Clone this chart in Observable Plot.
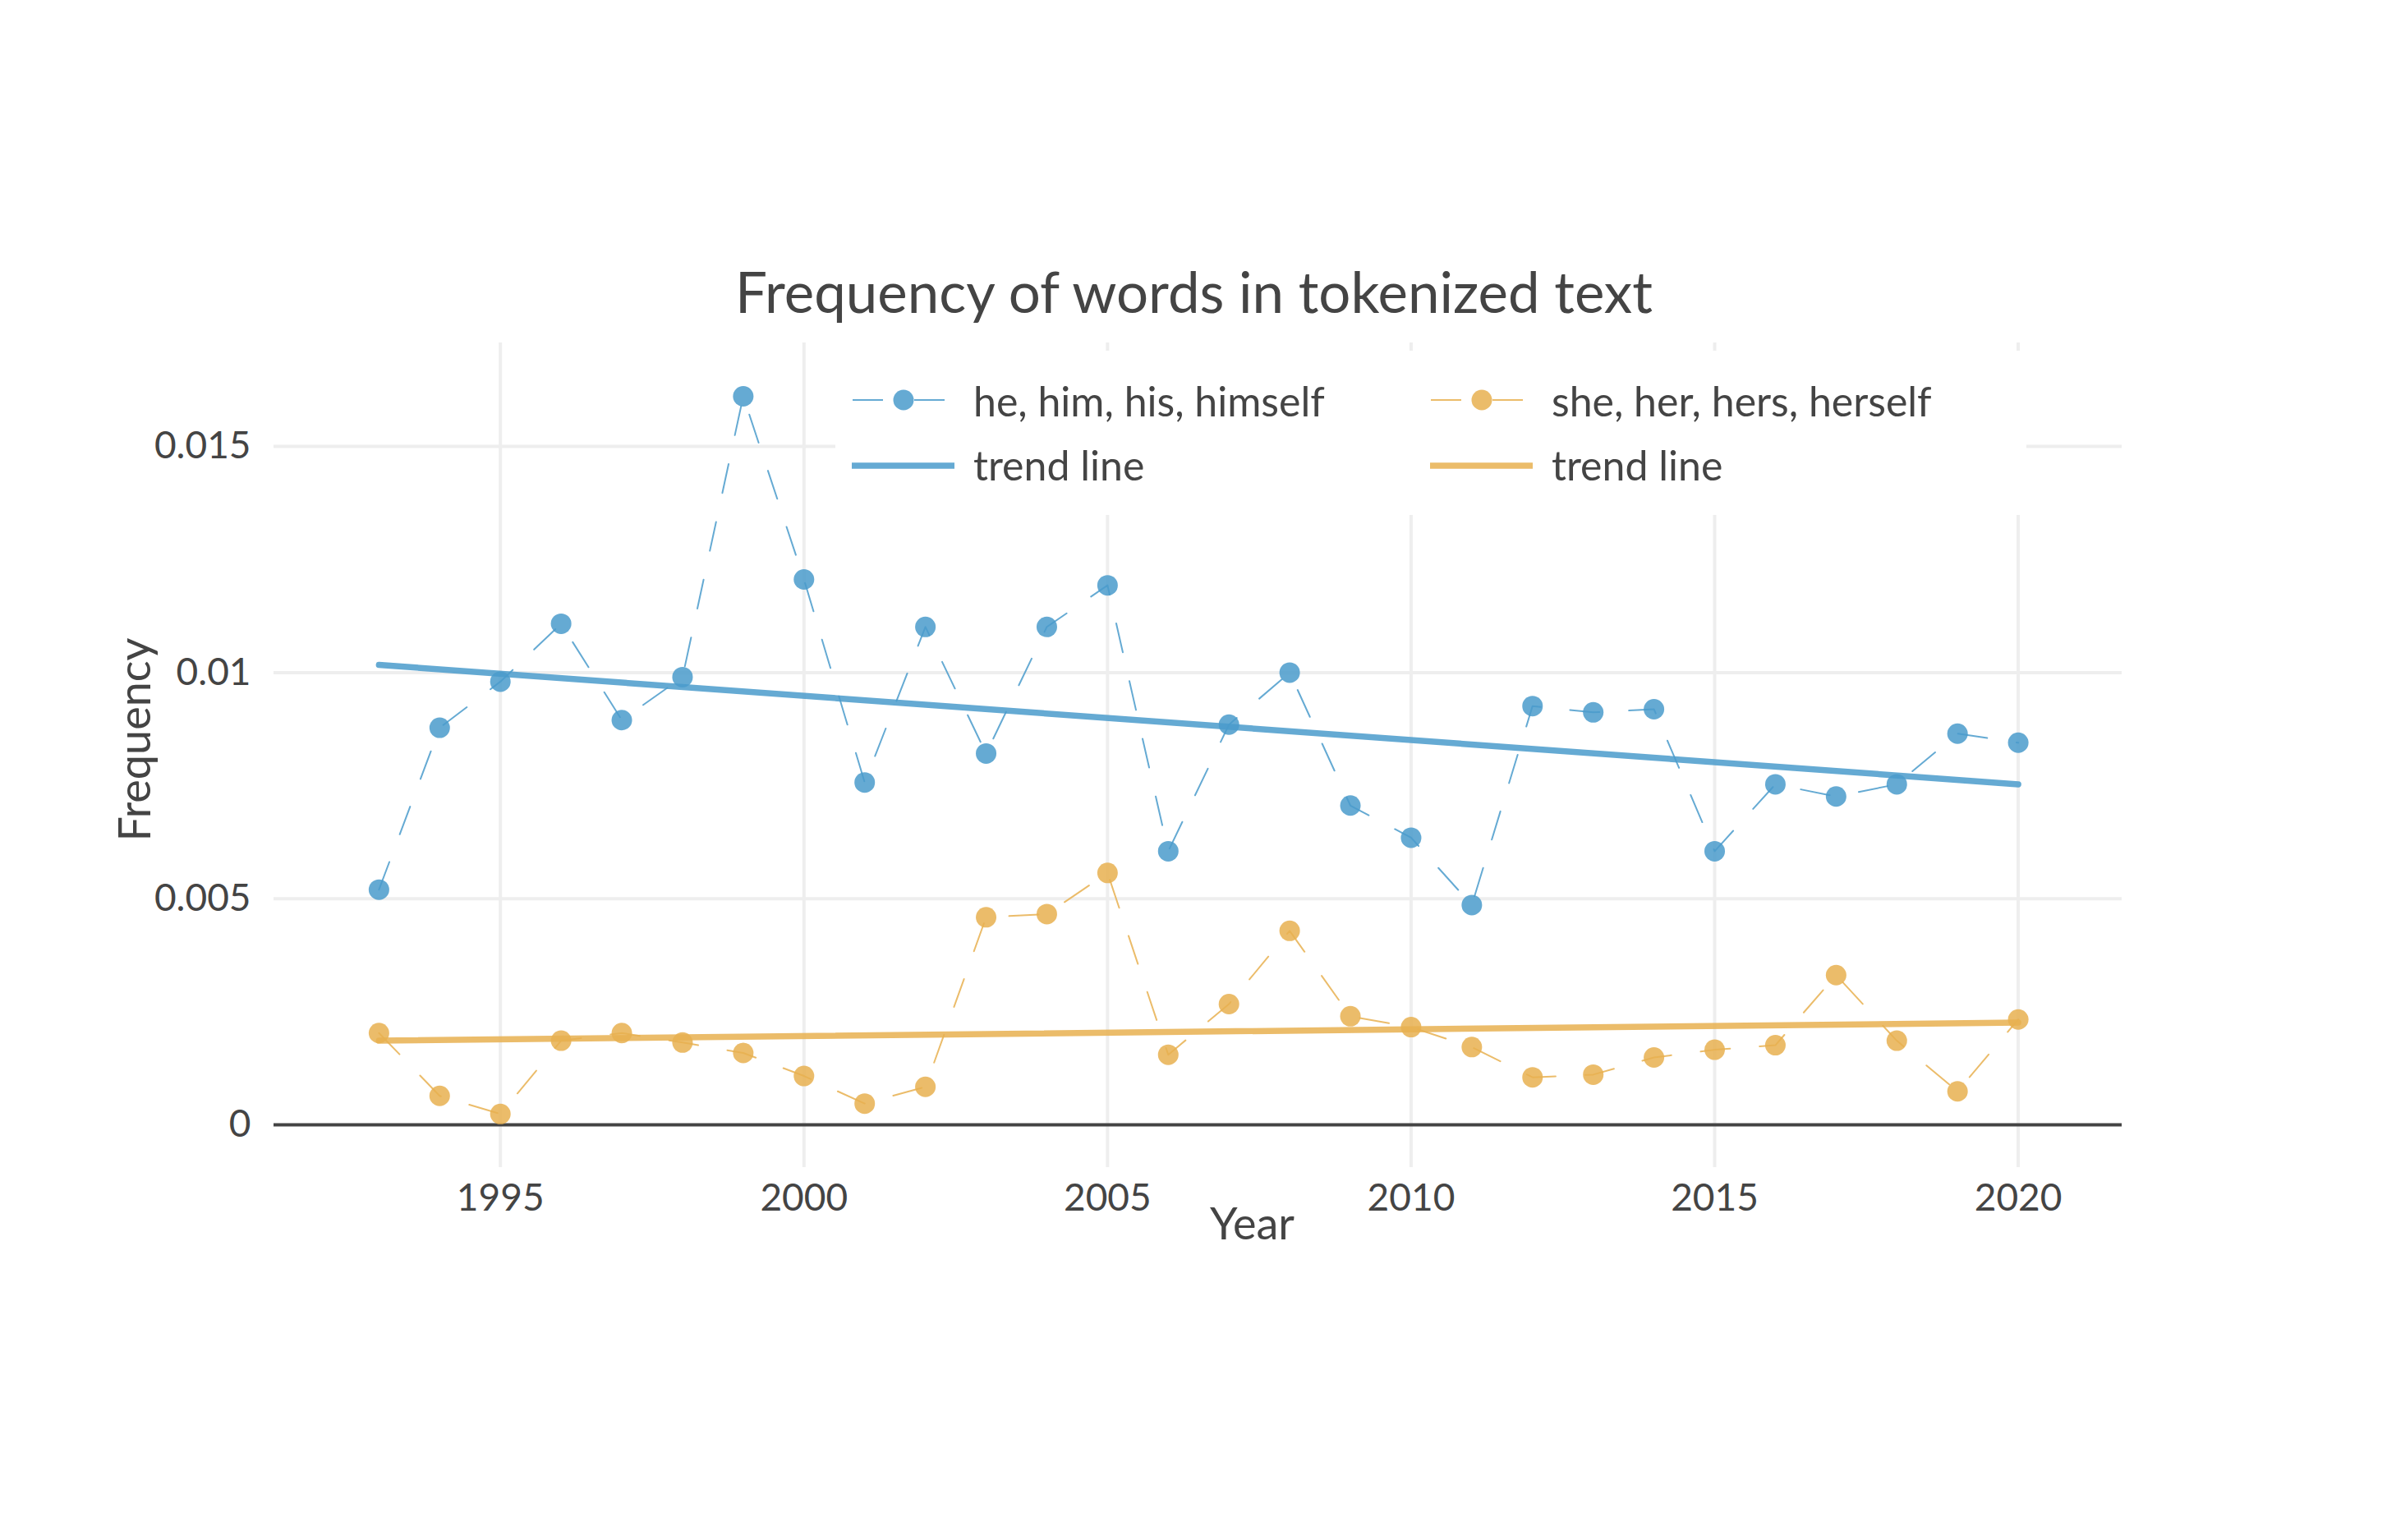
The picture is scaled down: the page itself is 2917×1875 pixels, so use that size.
<!DOCTYPE html>
<html>
<head>
<meta charset="utf-8">
<script src="https://cdn.jsdelivr.net/npm/d3@7"></script>
<script src="https://cdn.jsdelivr.net/npm/@observablehq/plot@0.6"></script>
<style>
  html, body { margin: 0; padding: 0; background: #fff; }
  #wrap { position: relative; width: 2917px; height: 1875px; font-family: Lato, "Noto Sans", sans-serif; color: #444; }
  #legend { position: absolute; left: 1017px; top: 427px; }
</style>
</head>
<body>
<div id="wrap"><div id="chart"></div><div id="legend"></div></div>
<script>
// ---- data ----
const years = [1993, 1994, 1995, 1996, 1997, 1998, 1999, 2000, 2001, 2002, 2003, 2004, 2005, 2006,
               2007, 2008, 2009, 2010, 2011, 2012, 2013, 2014, 2015, 2016, 2017, 2018, 2019, 2020];
const heFreq = [0.0052, 0.00878, 0.0098, 0.01108, 0.00895, 0.0099, 0.01611, 0.01206, 0.00757, 0.01101,
                0.00821, 0.01101, 0.01193, 0.00605, 0.00885, 0.01, 0.00706, 0.00635, 0.00486, 0.00926,
                0.00912, 0.00919, 0.00605, 0.00753, 0.00726, 0.00753, 0.00865, 0.00845];
const sheFreq = [0.00203, 0.00064, 0.00024, 0.00186, 0.00203, 0.00182, 0.00159, 0.00108, 0.00047, 0.00084,
                 0.00459, 0.00466, 0.00557, 0.00155, 0.00267, 0.00429, 0.0024, 0.00216, 0.00172, 0.00105,
                 0.00111, 0.00149, 0.00166, 0.00176, 0.00331, 0.00186, 0.00074, 0.00233];
const trendYears = [1993, 2020];
const heTrend = [0.01017, 0.00753];
const sheTrend = [0.00186, 0.00226];
const xTicks = [1995, 2000, 2005, 2010, 2015, 2020];
const yTicks = [0, 0.005, 0.01, 0.015];
const yTickLabels = ["0", "0.005", "0.01", "0.015"];
const seriesNames = ["he, him, his, himself", "she, her, hers, herself"];
const trendName = "trend line";
const titleText = "Frequency of words in tokenized text";
const xLabel = "Year";
const yLabel = "Frequency";

// ---- styles ----
const BLUE = "#4a9bcb";
const ORANGE = "#e8b050";
const OP = 0.85;
const TEXT = "#444444";

const heRows = years.map((y, i) => ({year: y, value: heFreq[i]}));
const sheRows = years.map((y, i) => ({year: y, value: sheFreq[i]}));
const heTrendRows = trendYears.map((y, i) => ({year: y, value: heTrend[i]}));
const sheTrendRows = trendYears.map((y, i) => ({year: y, value: sheTrend[i]}));

const chart = Plot.plot({
  width: 2917,
  height: 1875,
  marginLeft: 333,
  marginRight: 334,
  marginTop: 417,
  marginBottom: 454,
  style: {fontFamily: "Lato, 'Noto Sans', sans-serif", fontSize: "46px", color: TEXT, background: "#fff"},
  x: {domain: [1991.27, 2021.71]},
  y: {domain: [-0.000944, 0.01729]},
  marks: [
    Plot.gridX(xTicks, {stroke: "#eeeeee", strokeOpacity: 1, strokeWidth: 4}),
    Plot.gridY(yTicks.filter(d => d !== 0), {stroke: "#eeeeee", strokeOpacity: 1, strokeWidth: 4}),
    Plot.ruleY([0], {stroke: "#444444", strokeWidth: 4}),
    Plot.axisX({ticks: xTicks, tickFormat: d => String(d), tickSize: 0, tickPadding: 20, label: null, fontSize: 46, fill: TEXT}),
    Plot.axisY({ticks: yTicks, tickFormat: (d, i) => yTickLabels[yTicks.indexOf(d)], tickSize: 0, tickPadding: 28, label: null, fontSize: 46, fill: TEXT}),
    Plot.line(heRows, {x: "year", y: "value", stroke: BLUE, strokeOpacity: OP, strokeWidth: 2, strokeDasharray: "36,36"}),
    Plot.dot(heRows, {x: "year", y: "value", r: 12.5, fill: BLUE, fillOpacity: OP, stroke: null}),
    Plot.line(heTrendRows, {x: "year", y: "value", stroke: BLUE, strokeOpacity: OP, strokeWidth: 7.5}),
    Plot.line(sheRows, {x: "year", y: "value", stroke: ORANGE, strokeOpacity: OP, strokeWidth: 2, strokeDasharray: "36,36"}),
    Plot.dot(sheRows, {x: "year", y: "value", r: 12.5, fill: ORANGE, fillOpacity: OP, stroke: null}),
    Plot.line(sheTrendRows, {x: "year", y: "value", stroke: ORANGE, strokeOpacity: OP, strokeWidth: 7.5}),
    Plot.text([titleText], {frameAnchor: "top", dx: -5, dy: -59, fontSize: 69, fill: TEXT, lineAnchor: "middle", textAnchor: "middle"}),
    Plot.text([xLabel], {frameAnchor: "bottom", dx: 66, dy: 70, fontSize: 54, fill: TEXT, lineAnchor: "middle", textAnchor: "middle"}),
    Plot.text([yLabel], {frameAnchor: "left", dx: -168, dy: -19, fontSize: 54, fill: TEXT, lineAnchor: "middle", textAnchor: "middle", rotate: -90})
  ]
});
document.getElementById("chart").appendChild(chart);

// ---- legend ----
const lg = d3.select("#legend").append("svg")
  .attr("width", 1450).attr("height", 200)
  .style("font-family", "Lato, 'Noto Sans', sans-serif");
lg.append("rect").attr("width", 1450).attr("height", 200).attr("fill", "#fff");
const cols = [{dx: 0, color: BLUE, name: seriesNames[0]}, {dx: 704, color: ORANGE, name: seriesNames[1]}];
cols.forEach(c => {
  const g = lg.append("g").attr("transform", `translate(${c.dx},0)`);
  g.append("line").attr("x1", 21).attr("x2", 58).attr("y1", 60).attr("y2", 60)
    .attr("stroke", c.color).attr("stroke-opacity", OP).attr("stroke-width", 2);
  g.append("line").attr("x1", 96).attr("x2", 133).attr("y1", 60).attr("y2", 60)
    .attr("stroke", c.color).attr("stroke-opacity", OP).attr("stroke-width", 2);
  g.append("circle").attr("cx", 83).attr("cy", 60).attr("r", 12.5)
    .attr("fill", c.color).attr("fill-opacity", OP);
  g.append("text").attr("x", 168).attr("y", 80).attr("font-size", 50).attr("fill", TEXT).text(c.name);
  g.append("line").attr("x1", 20).attr("x2", 145).attr("y1", 140).attr("y2", 140)
    .attr("stroke", c.color).attr("stroke-opacity", OP).attr("stroke-width", 7.5);
  g.append("text").attr("x", 168).attr("y", 158).attr("font-size", 50).attr("fill", TEXT).text(trendName);
});
</script>
</body>
</html>
